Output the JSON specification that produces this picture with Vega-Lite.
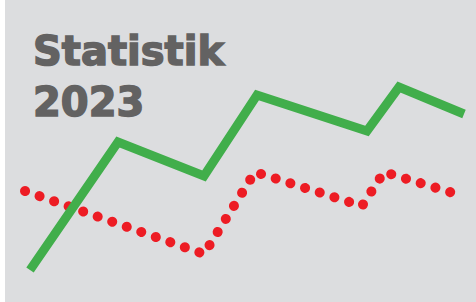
{
  "$schema": "https://vega.github.io/schema/vega-lite/v6.json",
  "width": 471,
  "height": 302,
  "autosize": {"type": "none"},
  "padding": {"left": 5, "top": 0, "right": 0, "bottom": 0},
  "background": "#ffffff",
  "config": {"view": {"stroke": null, "fill": "#dcdddf"}},
  "datasets": {
    "green": [
      {"x": 25, "y": 32},
      {"x": 113, "y": 160},
      {"x": 199, "y": 126},
      {"x": 252, "y": 207},
      {"x": 362, "y": 171},
      {"x": 394, "y": 215},
      {"x": 459, "y": 188}
    ],
    "red": [
      {"x": 20, "y": 111},
      {"x": 199, "y": 48},
      {"x": 250, "y": 130},
      {"x": 357, "y": 96},
      {"x": 379, "y": 130},
      {"x": 458, "y": 106}
    ],
    "labels": [
      {"x": 28, "y": 237, "text": "Statistik"},
      {"x": 28, "y": 186, "text": "2023"}
    ]
  },
  "layer": [
    {
      "data": {"name": "red"},
      "mark": {"type": "line", "color": "#ed1c24", "strokeWidth": 10, "strokeCap": "round", "strokeDash": [0.1, 15.3]},
      "encoding": {
        "x": {"field": "x", "type": "quantitative", "scale": {"domain": [0, 471], "nice": false, "zero": false}, "axis": null},
        "y": {"field": "y", "type": "quantitative", "scale": {"domain": [0, 302], "nice": false, "zero": false}, "axis": null}
      }
    },
    {
      "data": {"name": "green"},
      "mark": {"type": "line", "color": "#41ae4b", "strokeWidth": 9, "strokeCap": "butt", "strokeJoin": "miter"},
      "encoding": {
        "x": {"field": "x", "type": "quantitative", "scale": {"domain": [0, 471], "nice": false, "zero": false}, "axis": null},
        "y": {"field": "y", "type": "quantitative", "scale": {"domain": [0, 302], "nice": false, "zero": false}, "axis": null}
      }
    },
    {
      "data": {"name": "labels"},
      "mark": {"type": "text", "align": "left", "baseline": "alphabetic", "font": "DejaVu Sans", "fontWeight": "bold", "fontSize": 40, "color": "#636262", "stroke": "#636262", "strokeWidth": 1.5},
      "encoding": {
        "x": {"field": "x", "type": "quantitative", "scale": {"domain": [0, 471], "nice": false, "zero": false}, "axis": null},
        "y": {"field": "y", "type": "quantitative", "scale": {"domain": [0, 302], "nice": false, "zero": false}, "axis": null},
        "text": {"field": "text"}
      }
    }
  ]
}
